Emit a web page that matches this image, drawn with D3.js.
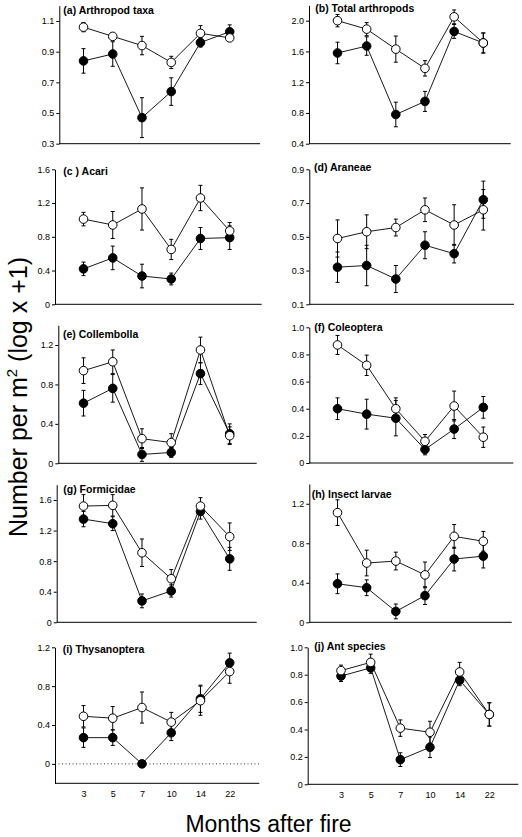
<!DOCTYPE html>
<html>
<head>
<meta charset="utf-8">
<script src="https://cdn.jsdelivr.net/npm/d3@7"></script>
<style>
  html, body { margin: 0; padding: 0; background: #fff; }
  svg { display: block; font-family: "Liberation Sans", Arial, sans-serif; }
</style>
</head>
<body>
<svg id="chart" width="522" height="837"></svg>
<script>
// ---------------- DATA ----------------
const months = ["3", "5", "7", "10", "14", "22"];

const panelTitles = [
  "(a) Arthropod taxa", "(b) Total arthropods",
  "(c ) Acari", "(d) Araneae",
  "(e) Collembolla", "(f) Coleoptera",
  "(g) Formicidae", "(h) Insect larvae",
  "(i) Thysanoptera", "(j) Ant species"
];

const yDomains = [
  [0.3, 1.2], [0.4, 2.2],
  [0, 1.6], [0.1, 0.9],
  [0, 1.4], [0, 1.0],
  [0, 1.8], [0, 1.4],
  [-0.2, 1.2], [0, 1.0]
];

const yTicks = [
  [0.3, 0.5, 0.7, 0.9, 1.1], [0.4, 0.8, 1.2, 1.6, 2.0],
  [0, 0.4, 0.8, 1.2, 1.6], [0.1, 0.3, 0.5, 0.7, 0.9],
  [0, 0.4, 0.8, 1.2], [0, 0.2, 0.4, 0.6, 0.8, 1.0],
  [0, 0.4, 0.8, 1.2, 1.6], [0, 0.4, 0.8, 1.2],
  [0, 0.4, 0.8, 1.2], [0, 0.2, 0.4, 0.6, 0.8, 1.0]
];

// open circles
const openMean = [
  [1.06, 1.00, 0.94, 0.83, 1.02, 0.99],
  [2.00, 1.89, 1.63, 1.38, 2.05, 1.71],
  [1.01, 0.94, 1.13, 0.65, 1.26, 0.87],
  [0.49, 0.53, 0.555, 0.66, 0.57, 0.66],
  [0.94, 1.03, 0.25, 0.21, 1.15, 0.28],
  [0.87, 0.72, 0.40, 0.16, 0.42, 0.19],
  [1.52, 1.53, 0.91, 0.57, 1.52, 1.12],
  [1.11, 0.60, 0.62, 0.48, 0.87, 0.82],
  [0.49, 0.47, 0.58, 0.43, 0.65, 0.95],
  [0.83, 0.89, 0.41, 0.38, 0.82, 0.51]
];
const openSE = [
  [0.03, 0.01, 0.06, 0.04, 0.05, 0.02],
  [0.08, 0.085, 0.17, 0.10, 0.09, 0.13],
  [0.08, 0.16, 0.25, 0.12, 0.15, 0.10],
  [0.11, 0.10, 0.05, 0.07, 0.12, 0.12],
  [0.13, 0.12, 0.10, 0.09, 0.13, 0.09],
  [0.07, 0.075, 0.08, 0.05, 0.11, 0.075],
  [0.15, 0.14, 0.18, 0.12, 0.11, 0.18],
  [0.13, 0.13, 0.09, 0.13, 0.12, 0.10],
  [0.11, 0.12, 0.16, 0.10, 0.15, 0.12],
  [0.04, 0.06, 0.06, 0.08, 0.07, 0.085]
];

// filled circles
const filledMean = [
  [0.84, 0.885, 0.47, 0.64, 0.96, 1.03],
  [1.58, 1.67, 0.78, 0.95, 1.86, 1.71],
  [0.42, 0.55, 0.335, 0.30, 0.78, 0.79],
  [0.32, 0.33, 0.25, 0.45, 0.40, 0.72],
  [0.61, 0.76, 0.09, 0.11, 0.91, 0.30],
  [0.40, 0.36, 0.33, 0.10, 0.25, 0.41],
  [1.35, 1.29, 0.28, 0.41, 1.45, 0.83],
  [0.39, 0.35, 0.11, 0.27, 0.64, 0.67],
  [0.27, 0.27, 0.00, 0.32, 0.67, 1.04],
  [0.79, 0.85, 0.18, 0.27, 0.76, 0.51]
];
const filledSE = [
  [0.08, 0.08, 0.13, 0.09, 0.03, 0.045],
  [0.14, 0.12, 0.16, 0.13, 0.09, 0.13],
  [0.08, 0.14, 0.14, 0.07, 0.13, 0.14],
  [0.09, 0.12, 0.08, 0.08, 0.055, 0.11],
  [0.13, 0.14, 0.07, 0.05, 0.11, 0.10],
  [0.08, 0.11, 0.13, 0.04, 0.07, 0.08],
  [0.10, 0.09, 0.09, 0.08, 0.10, 0.15],
  [0.10, 0.08, 0.075, 0.09, 0.12, 0.12],
  [0.10, 0.08, 0.00, 0.08, 0.14, 0.10],
  [0.04, 0.04, 0.05, 0.075, 0.04, 0.085]
];

const yLabelMain = "Number per m";
const yLabelSup = "2";
const yLabelTail = " (log x +1)";
const xLabel = "Months after fire";

// ---------------- LAYOUT (positions only) ----------------
const layout = [
  { ax: 59.3, ar: 260,   x0: 83.5,  x1: 229.7, yt: 5.7,   yb: 143.7, tx: 63.3,  ty: 14 },
  { ax: 309,  ar: 510.7, x0: 337.5, x1: 483.3, yt: 5.3,   yb: 143.7, tx: 315.3, ty: 11.5 },
  { ax: 55,   ar: 261.7, x0: 83.5,  x1: 229.7, yt: 169.3, yb: 304.3, tx: 63.3,  ty: 175 },
  { ax: 309.3,ar: 514,   x0: 337.5, x1: 483.3, yt: 169.3, yb: 304.3, tx: 314,   ty: 171 },
  { ax: 58.3, ar: 256.7, x0: 83.5,  x1: 229.7, yt: 325.3, yb: 463.3, tx: 63,    ty: 338 },
  { ax: 309.3,ar: 513.3, x0: 337.5, x1: 483.3, yt: 327.3, yb: 463,   tx: 314.3, ty: 331 },
  { ax: 56.7, ar: 256.7, x0: 83.5,  x1: 229.7, yt: 484.7, yb: 622.3, tx: 63.3,  ty: 493 },
  { ax: 309.3,ar: 511.7, x0: 337.5, x1: 483.3, yt: 484,   yb: 622.3, tx: 311.7, ty: 498 },
  { ax: 55,   ar: 259.3, x0: 83.5,  x1: 229.7, yt: 647.3, yb: 783.3, tx: 62.7,  ty: 653 },
  { ax: 307.7,ar: 518.3, x0: 341,   x1: 489.3, yt: 647.3, yb: 784.3, tx: 314.3, ty: 650 }
];

// ---------------- DRAW ----------------
const svg = d3.select("#chart");
const fmt = v => (v === 0 ? "0" : d3.format(".1f")(v));

panelTitles.forEach((title, p) => {
  const L = layout[p];
  const g = svg.append("g");
  const x = d3.scaleLinear().domain([0, months.length - 1]).range([L.x0, L.x1]);
  const y = d3.scaleLinear().domain(yDomains[p]).range([L.yb, L.yt]);

  // y axis
  const yAxis = g.append("g")
    .attr("transform", `translate(${L.ax},0)`)
    .call(d3.axisLeft(y).tickValues(yTicks[p]).tickSize(3).tickSizeOuter(0).tickPadding(2).tickFormat(fmt));
  yAxis.selectAll("text").attr("font-size", 9).attr("font-family", "Liberation Sans, Arial, sans-serif").attr("fill", "#000");
  yAxis.selectAll("path, line").attr("stroke", "#000").attr("stroke-width", 1);

  // x axis line
  g.append("line")
    .attr("x1", L.ax).attr("x2", L.ar)
    .attr("y1", L.yb).attr("y2", L.yb)
    .attr("stroke", "#000").attr("stroke-width", 1);

  // x tick labels on bottom row
  if (p >= 8) {
    const xAxis = g.append("g")
      .attr("transform", `translate(0,${L.yb})`)
      .call(d3.axisBottom(x).tickValues(d3.range(months.length)).tickSize(0).tickPadding(7).tickFormat(i => months[i]));
    xAxis.select(".domain").remove();
    xAxis.selectAll("text").attr("font-size", 9).attr("font-family", "Liberation Sans, Arial, sans-serif").attr("fill", "#000");
  }

  // zero reference dotted line when domain goes below zero
  if (yDomains[p][0] < 0) {
    g.append("line")
      .attr("x1", L.ax).attr("x2", L.ar)
      .attr("y1", y(0)).attr("y2", y(0))
      .attr("stroke", "#000").attr("stroke-width", 0.8)
      .attr("stroke-dasharray", "1,2.5");
  }

  const series = [
    { mean: filledMean[p], se: filledSE[p], fill: "#000" },
    { mean: openMean[p], se: openSE[p], fill: "#fff" }
  ];

  const line = d3.line().x((d, i) => x(i)).y(d => y(d));

  // error bars
  series.forEach(s => {
    const eb = g.append("g");
    s.mean.forEach((m, i) => {
      const e = s.se[i];
      if (e <= 0) return;
      const cx = x(i);
      eb.append("line").attr("x1", cx).attr("x2", cx).attr("y1", y(m - e)).attr("y2", y(m + e))
        .attr("stroke", "#000").attr("stroke-width", 1);
      [m - e, m + e].forEach(v => {
        eb.append("line").attr("x1", cx - 2).attr("x2", cx + 2).attr("y1", y(v)).attr("y2", y(v))
          .attr("stroke", "#000").attr("stroke-width", 1);
      });
    });
  });

  // lines
  series.forEach(s => {
    g.append("path").datum(s.mean)
      .attr("d", line)
      .attr("fill", "none").attr("stroke", "#000").attr("stroke-width", 0.9);
  });

  // markers
  series.forEach(s => {
    g.selectAll(null).data(s.mean).enter().append("circle")
      .attr("cx", (d, i) => x(i)).attr("cy", d => y(d)).attr("r", 4.3)
      .attr("fill", s.fill).attr("stroke", "#000").attr("stroke-width", 1);
  });

  // title
  g.append("text")
    .attr("x", L.tx).attr("y", L.ty)
    .attr("font-size", 10.5).attr("font-weight", "bold")
    .attr("fill", "#000")
    .text(title);
});

// axis titles
const yl = svg.append("text")
  .attr("transform", "translate(26.5,397) rotate(-90)")
  .attr("text-anchor", "middle")
  .attr("font-size", 25)
  .attr("fill", "#000");
yl.append("tspan").text(yLabelMain);
yl.append("tspan").attr("font-size", 15).attr("dy", -10).text(yLabelSup);
yl.append("tspan").attr("dy", 10).text(yLabelTail);

svg.append("text")
  .attr("x", 268.5).attr("y", 832)
  .attr("text-anchor", "middle")
  .attr("font-size", 23)
  .attr("fill", "#000")
  .text(xLabel);
</script>
</body>
</html>
